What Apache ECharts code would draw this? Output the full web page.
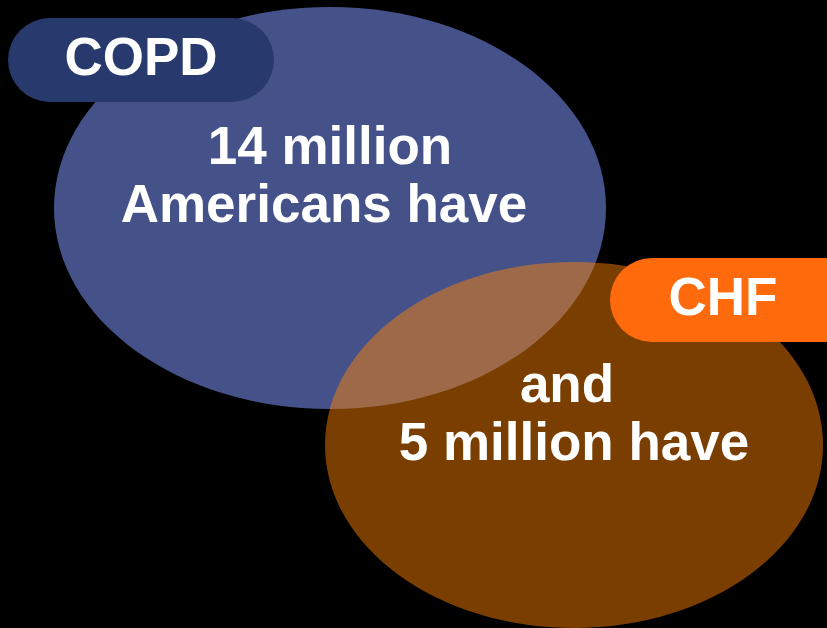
<!DOCTYPE html>
<html>
<head>
<meta charset="utf-8">
<script src="https://cdn.jsdelivr.net/npm/echarts@6/dist/echarts.min.js"></script>
<style>
  html, body { margin: 0; padding: 0; background: #000; }
  #chart { width: 827px; height: 628px; }
</style>
</head>
<body>
<div id="chart"></div>
<script>
// Two overlapping populations
const setNames = ['COPD', 'CHF'];
const setCountsMillions = [14, 5];
const setLines = [
  [setCountsMillions[0] + ' million', 'Americans have'],
  ['and', setCountsMillions[1] + ' million have']
];

const FONT = '"Liberation Sans", Arial, sans-serif';

// ellipse geometry, label pills, and text anchors per set
const layout = [
  {
    ellipse: { cx: 330, cy: 208, rx: 276, ry: 201 }, fill: '#45528a',
    pill: { x: 8, y: 18, w: 266, h: 84 }, pillFill: '#28396d', pillTextX: 141,
    lines: [{ x: 330, y: 149 }, { x: 324, y: 207 }]
  },
  {
    ellipse: { cx: 574, cy: 445, rx: 249, ry: 183 }, fill: 'rgba(255,132,0,0.48)',
    pill: { x: 610, y: 258, w: 260, h: 84 }, pillFill: '#ff6a0c', pillTextX: 723,
    lines: [{ x: 567, y: 387 }, { x: 574, y: 445 }]
  }
];

const shapes = [];
layout.forEach((l) => {
  shapes.push({
    type: 'ellipse',
    shape: l.ellipse,
    style: { fill: l.fill },
    z: 1
  });
});
layout.forEach((l, i) => {
  shapes.push({
    type: 'rect',
    shape: { x: l.pill.x, y: l.pill.y, width: l.pill.w, height: l.pill.h, r: l.pill.h / 2 },
    style: { fill: l.pillFill },
    z: 2
  });
  shapes.push({
    type: 'text',
    x: l.pillTextX, y: l.pill.y + l.pill.h / 2,
    style: {
      text: setNames[i], fill: '#fff', font: 'bold 53px ' + FONT,
      align: 'center', verticalAlign: 'middle'
    },
    z: 3
  });
  setLines[i].forEach((t, j) => {
    shapes.push({
      type: 'text',
      x: l.lines[j].x, y: l.lines[j].y,
      style: {
        text: t, fill: '#fff', font: 'bold 53px ' + FONT,
        align: 'center', verticalAlign: 'middle'
      },
      z: 3
    });
  });
});

const chart = echarts.init(document.getElementById('chart'), null, { renderer: 'canvas' });
chart.setOption({
  backgroundColor: '#000',
  animation: false,
  graphic: { elements: shapes }
});
</script>
</body>
</html>
